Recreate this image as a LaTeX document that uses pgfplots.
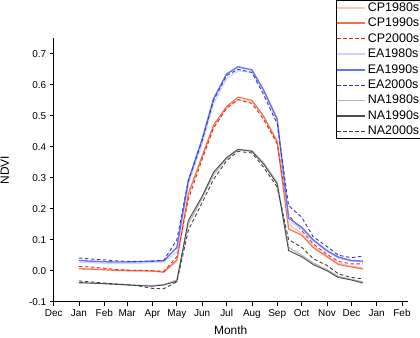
\documentclass[border=0pt]{standalone}
\usepackage{fontspec}
\setmainfont{Liberation Sans}
\usepackage{pgfplots}
\usepackage{pgfplotstable}
\pgfplotsset{compat=1.18}

\definecolor{cp80}{HTML}{F8C6BC}
\definecolor{cp90}{HTML}{F0704C}
\definecolor{cp00}{HTML}{E02818}
\definecolor{ea80}{HTML}{CCD4F8}
\definecolor{ea90}{HTML}{6874F0}
\definecolor{ea00}{HTML}{3838B0}
\definecolor{na80}{HTML}{B4B4B4}
\definecolor{na90}{HTML}{4C4C4C}
\definecolor{na00}{HTML}{404040}

% day of year, semi-monthly NDVI
\pgfplotstableread{
day  cp80   cp90   cp00   ea80  ea90  ea00  na80   na90   na00
0    0.007  0.006  0.014  0.027 0.033 0.041 -0.040 -0.038 -0.033
14   0.006  0.005  0.012  0.026 0.031 0.038 -0.040 -0.040 -0.036
31   0.004  0.003  0.008  0.024 0.029 0.035 -0.041 -0.042 -0.040
45   0.002  0.001  0.004  0.023 0.028 0.032 -0.043 -0.044 -0.043
59   0.001  0.000  0.002  0.023 0.028 0.030 -0.045 -0.046 -0.045
73   0.000  0.000  0.001  0.024 0.029 0.030 -0.047 -0.048 -0.049
90   -0.001 -0.001 0.000  0.026 0.031 0.031 -0.048 -0.050 -0.057
104  -0.003 -0.005 -0.002 0.028 0.032 0.034 -0.045 -0.046 -0.058
120  0.030  0.035  0.045  0.060 0.075 0.100 -0.030 -0.034 -0.036
134  0.245  0.248  0.230  0.280 0.290 0.290 0.150  0.162  0.130
151  0.365  0.370  0.360  0.410 0.425 0.420 0.235  0.240  0.220
165  0.465  0.470  0.460  0.540 0.555 0.550 0.310  0.318  0.295
181  0.525  0.530  0.525  0.620 0.635 0.630 0.362  0.365  0.355
195  0.552  0.560  0.552  0.645 0.658 0.650 0.390  0.392  0.385
212  0.545  0.550  0.540  0.640 0.648 0.640 0.388  0.385  0.380
226  0.500  0.500  0.490  0.580 0.585 0.570 0.350  0.345  0.335
243  0.420  0.415  0.410  0.485 0.490 0.474 0.285  0.280  0.270
257  0.150  0.135  0.180  0.160 0.170 0.210 0.075  0.065  0.100
273  0.120  0.115  0.130  0.135 0.140 0.173 0.050  0.045  0.076
287  0.080  0.075  0.087  0.095 0.100 0.110 0.025  0.020  0.039
304  0.048  0.045  0.053  0.062 0.065 0.078 0.003  0.000  0.017
318  0.024  0.020  0.030  0.040 0.044 0.050 -0.018 -0.022 -0.010
334  0.014  0.012  0.022  0.030 0.033 0.042 -0.028 -0.030 -0.022
348  0.008  0.006  0.022  0.028 0.031 0.047 -0.036 -0.040 -0.026
}\ndvi

\begin{document}
\begin{tikzpicture}
\useasboundingbox (-53.7bp,-36.3bp) rectangle (366.3bp,301.7bp);
\begin{axis}[
    scale only axis,
    width=354bp, height=263.4bp,
    xmin=-31, xmax=403,
    ymin=-0.1, ymax=0.75,
    axis x line=bottom, axis y line=left,
    axis line style={-, line width=0.8bp},
    tick align=outside,
    major tick length=4bp,
    tick style={line width=0.8bp, black},
    xtick={-31,0,31,59,90,120,151,181,212,243,273,304,334,365,396},
    xticklabels={Dec,Jan,Feb,Mar,Apr,May,Jun,Jul,Aug,Sep,Oct,Nov,Dec,Jan,Feb},
    ytick={-0.1,0,0.1,0.2,0.3,0.4,0.5,0.6,0.7},
    yticklabel style={/pgf/number format/.cd, fixed, fixed zerofill, precision=1},
    /pgf/number format/assume math mode=true,
    tick label style={font=\fontsize{10}{12}\selectfont},
    xlabel={Month}, ylabel={NDVI},
    label style={font=\fontsize{12}{14}\selectfont},
    xlabel style={at={(axis description cs:0.5,-0.107)}, anchor=center},
    ylabel style={at={(axis description cs:-0.138,0.5)}, anchor=center},
    legend style={at={(axis description cs:0.797,1.145)}, anchor=north west,
        draw=black, line width=0.8bp, inner sep=0pt, row sep=0.4bp,
        font=\fontsize{12.5}{14}\selectfont,
        nodes={inner sep=1.5bp, text height=9.5bp, text depth=2.5bp}},
    legend cell align=left,
    legend image code/.code={\draw[#1] (0bp,0bp) -- (28bp,0bp);},
    every axis plot/.append style={no marks, line width=0.9bp},
]
\addplot[forget plot, draw=cp80, line width=1.4bp] table[x=day, y=cp80] {\ndvi};
\addplot[forget plot, draw=cp90, line width=1.1bp] table[x=day, y=cp90] {\ndvi};
\addplot[forget plot, draw=cp00, dash pattern=on 3.5bp off 2.5bp] table[x=day, y=cp00] {\ndvi};
\addplot[forget plot, draw=ea80, line width=1.2bp] table[x=day, y=ea80] {\ndvi};
\addplot[forget plot, draw=ea90, line width=1.4bp] table[x=day, y=ea90] {\ndvi};
\addplot[forget plot, draw=ea00, dash pattern=on 3.5bp off 2.5bp] table[x=day, y=ea00] {\ndvi};
\addplot[forget plot, draw=na80, line width=1.2bp] table[x=day, y=na80] {\ndvi};
\addplot[forget plot, draw=na90] table[x=day, y=na90] {\ndvi};
\addplot[forget plot, draw=na00, dash pattern=on 3.5bp off 2.5bp] table[x=day, y=na00] {\ndvi};
\addlegendimage{draw=cp80, line width=2.2bp}\addlegendentry{CP1980s}
\addlegendimage{draw=cp90, line width=2bp}\addlegendentry{CP1990s}
\addlegendimage{draw=cp00, line width=1bp, dash pattern=on 3.5bp off 2.5bp}\addlegendentry{CP2000s}
\addlegendimage{draw=ea80, line width=1.6bp}\addlegendentry{EA1980s}
\addlegendimage{draw=ea90, line width=2.2bp}\addlegendentry{EA1990s}
\addlegendimage{draw=ea00, line width=1bp, dash pattern=on 3.5bp off 2.5bp}\addlegendentry{EA2000s}
\addlegendimage{draw=na80, line width=1.6bp}\addlegendentry{NA1980s}
\addlegendimage{draw=na90, line width=1.4bp}\addlegendentry{NA1990s}
\addlegendimage{draw=na00, line width=1bp, dash pattern=on 3.5bp off 2.5bp}\addlegendentry{NA2000s}
\end{axis}
\end{tikzpicture}
\end{document}
